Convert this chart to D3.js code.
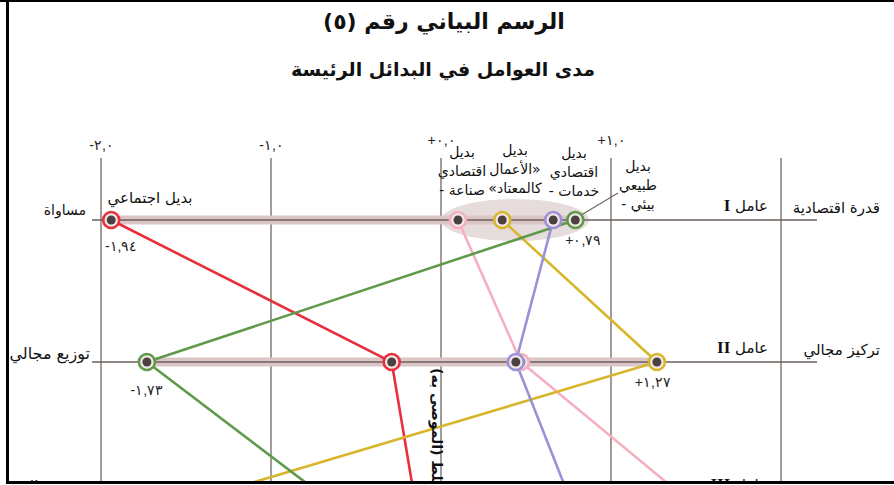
<!DOCTYPE html>
<html lang="ar">
<head>
<meta charset="utf-8">
<script src="https://cdn.jsdelivr.net/npm/d3@7"></script>
<style>
  body { margin: 0; background: #fff; }
  svg { display: block; font-family: 'DejaVu Sans', sans-serif; }
</style>
</head>
<body>
<div id="chart"></div>
<script>
// values (factor III lies below the crop, extrapolated from line slopes)
const factors = ['I', 'II', 'III'];
const factorNames = ['قدرة اقتصادية', 'تركيز مجالي', 'تخصص مجالي'];
const oppositeNames = ['مساواة', 'توزيع مجالي', 'تنوع مجالي'];
const alternatives = ['بديل اجتماعي', 'بديل اقتصادي - صناعة', 'بديل «الأعمال كالمعتاد»', 'بديل اقتصادي - خدمات', 'بديل طبيعي - بيئي'];
const colors = ['#e8303c', '#f4b0bf', '#d8b62c', '#9b91d6', '#5f9a4b'];
const factorI = [-1.94, 0.10, 0.36, 0.66, 0.79];
const factorII = [-0.29, 0.47, 1.27, 0.44, -1.73];
const factorIII = [-0.15, 1.48, -1.53, 0.77, -0.63];
const tickValues = [-2, -1, 0, 1];
const gridValues = [-2, -1, 0, 1, 2];
const labelled = [[0, 'I'], [4, 'I'], [4, 'II'], [2, 'II']];
const rotatedLabel = 'بديل المختلط (الموصى به)';

const W = 894, H = 485;
const digits = '٠١٢٣٤٥٦٧٨٩';
const toArabic = (v, p) => (v < 0 ? '-' : '+') + Math.abs(v).toFixed(p).replace(/[0-9]/g, d => digits[d]).replace('.', ',');

const svg = d3.select('#chart').append('svg').attr('width', W).attr('height', H);

const x = d3.scaleLinear().domain([-2, 2]).range([101, 781]);
const y = d3.scalePoint().domain(factors).range([220, 504]);

const data = alternatives.map((name, i) => ({ name, color: colors[i], values: [factorI[i], factorII[i], factorIII[i]] }));

function rtlText(px, py, str, size) {
    return svg.append('text').attr('x', px).attr('y', py).style('direction', 'rtl')
        .style('font-size', size + 'px').attr('fill', '#111').text(str);
}

// title
rtlText(444, 29, 'الرسم البياني رقم (٥)', 22).attr('text-anchor', 'middle').style('font-weight', 'bold');
rtlText(443, 76, 'مدى العوامل في البدائل الرئيسة', 19).attr('text-anchor', 'middle').style('font-weight', 'bold');

// vertical grid
svg.selectAll('line.grid').data(gridValues).enter().append('line').attr('class', 'grid')
    .attr('x1', d => x(d)).attr('x2', d => x(d)).attr('y1', 158).attr('y2', H)
    .attr('stroke', '#857a74').attr('stroke-width', 1.5);

const xAxis = d3.axisTop(x).tickValues(tickValues).tickSize(0).tickPadding(0).tickFormat(d => toArabic(d, 1));
const xAxisG = svg.append('g').attr('transform', 'translate(0,150)').call(xAxis);
xAxisG.select('.domain').remove();
xAxisG.selectAll('.tick text').attr('dy', d => d < 0 ? '0' : '-5px').style('direction', 'ltr')
    .style('font-family', "'Liberation Sans', sans-serif").style('font-size', '14px').style('letter-spacing', '1px').attr('fill', '#222');

// highlight behind the cluster at factor I
svg.append('ellipse').attr('cx', 515).attr('cy', y('I')).attr('rx', 74).attr('ry', 21).attr('fill', '#e7dcdc');

// factor rows
factors.forEach((f, i) => {
    const vals = data.map(d => d.values[i]);
    svg.append('line').attr('x1', x(d3.min(vals))).attr('x2', x(d3.max(vals))).attr('y1', y(f)).attr('y2', y(f))
        .attr('stroke', '#dcc5c6').attr('stroke-width', 9);
    svg.append('line').attr('x1', 92).attr('x2', 817).attr('y1', y(f)).attr('y2', y(f))
        .attr('stroke', '#6b605c').attr('stroke-width', 1.5);

    const dy = f === 'III' ? -14 : -9;
    rtlText(768, y(f) + dy, 'عامل ', 15).attr('text-anchor', 'start')
        .append('tspan').style('font-family', "'Liberation Serif', serif").style('font-weight', 'bold').style('font-size', '17px').text(f);
    rtlText(880, y(f) + dy + 2, factorNames[i], 15).attr('text-anchor', 'start');
});

rtlText(86, y('I') - 5, oppositeNames[0], 14).attr('text-anchor', 'start');
rtlText(90, y('II') - 3, oppositeNames[1], 16).attr('text-anchor', 'start');
rtlText(90, y('III') - 12, oppositeNames[2], 16).attr('text-anchor', 'start');

// alternative lines
const line = d3.line().x(d => x(d[0])).y(d => y(d[1]));
svg.selectAll('path.alt').data(data).enter().append('path').attr('class', 'alt')
    .attr('d', d => line(d.values.map((v, i) => [v, factors[i]])))
    .attr('fill', 'none').attr('stroke', d => d.color).attr('stroke-width', 2.6);

// leader to the natural alternative label
svg.append('line').attr('x1', x(factorI[4]) + 6).attr('y1', y('I') - 5).attr('x2', 618).attr('y2', 193)
    .attr('stroke', '#6f6662').attr('stroke-width', 1.2);

// points
factors.forEach((f, i) => {
    const pts = svg.selectAll(null).data(data).enter().append('g')
        .attr('transform', d => `translate(${x(d.values[i])},${y(f)})`);
    pts.append('circle').attr('r', 8).attr('fill', '#f2e8e8').attr('stroke', d => d.color).attr('stroke-width', 2.6);
    pts.append('circle').attr('r', 4.5).attr('fill', '#4a4140');
});

// value labels
const labelOffsets = [[10, 31], [8, 25], [0, 33], [-4, 25]];
labelled.forEach(([a, f], k) => {
    const v = data[a].values[factors.indexOf(f)];
    svg.append('text').attr('x', x(v) + labelOffsets[k][0]).attr('y', y(f) + labelOffsets[k][1])
        .attr('text-anchor', 'middle').style('direction', 'ltr').style('unicode-bidi', 'bidi-override')
        .style('font-family', "'Liberation Sans', sans-serif").style('font-size', '14px').style('letter-spacing', '2px')
        .attr('fill', '#222').text(toArabic(v, 2));
});

// alternative names above factor I, one text per line
const nameLines = [
    null,
    ['بديل', 'اقتصادي', 'صناعة -'],
    ['بديل', '«الأعمال', 'كالمعتاد»'],
    ['بديل', 'اقتصادي', 'خدمات -'],
    ['بديل', 'طبيعي', 'بيئي -']
];
const namePos = [null, [462, 157], [515, 155], [574, 158], [638, 171]];
nameLines.forEach((lines, i) => {
    if (!lines) return;
    lines.forEach((s, j) => rtlText(namePos[i][0], namePos[i][1] + j * 19, s, 14).attr('text-anchor', 'middle'));
});
rtlText(150, 203, alternatives[0], 15).attr('text-anchor', 'middle');

svg.append('text').attr('transform', 'translate(432,368) rotate(90)').attr('text-anchor', 'end').style('direction', 'rtl')
    .style('font-size', '14px').style('font-weight', 'bold').attr('fill', '#111').text(rotatedLabel);

// scan frame
svg.append('rect').attr('x', 0).attr('y', 0).attr('width', W).attr('height', 2).attr('fill', '#000');
svg.append('rect').attr('x', 6).attr('y', 0).attr('width', 3).attr('height', H).attr('fill', '#000');
svg.append('rect').attr('x', 6).attr('y', 481).attr('width', W).attr('height', 3).attr('fill', '#000');
svg.append('rect').attr('x', 0).attr('y', 484).attr('width', W).attr('height', 1).attr('fill', '#fff');
</script>
</body>
</html>
